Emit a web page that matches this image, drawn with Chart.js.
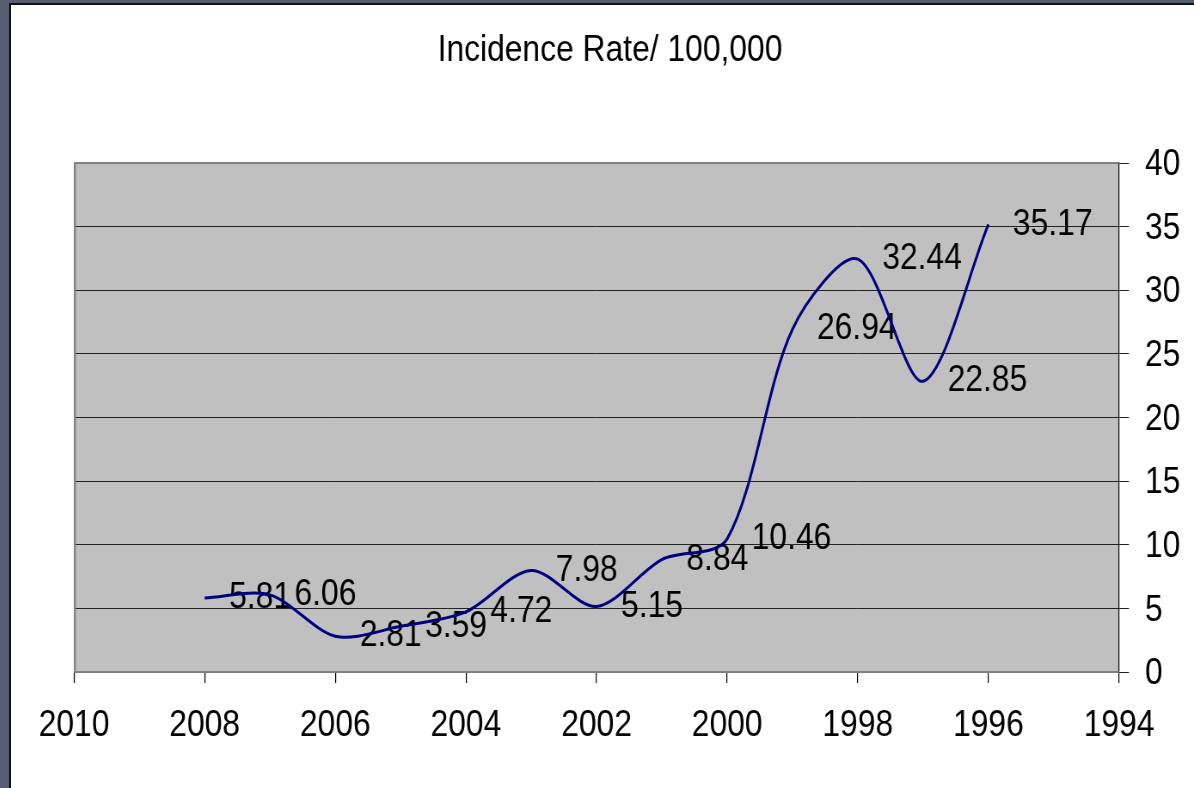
<!DOCTYPE html>
<html>
<head>
<meta charset="utf-8">
<script src="https://cdn.jsdelivr.net/npm/chart.js@4/dist/chart.umd.min.js"></script>
<style>
  html, body { margin: 0; padding: 0; width: 1194px; height: 788px; overflow: hidden; background: #585c70; }
  #frame { position: absolute; left: 9px; top: 3px; width: 1185px; height: 785px; border-left: 2px solid #111; border-top: 2px solid #111; background: #fff; }
</style>
</head>
<body>
<div id="frame">
  <!-- drawn wide, shown narrower: the text in this chart is tall and narrow -->
  <canvas id="chart" width="1376" height="783" style="width:1183px;height:783px"></canvas>
</div>
<script>
var years = [2008, 2007, 2006, 2005, 2004, 2003, 2002, 2001, 2000, 1999, 1998, 1997, 1996];
var rates = [5.81, 6.06, 2.81, 3.59, 4.72, 7.98, 5.15, 8.84, 10.46, 26.94, 32.44, 22.85, 35.17];
var yearTicks = [2010, 2008, 2006, 2004, 2002, 2000, 1998, 1996, 1994];
var rateTicks = [0, 5, 10, 15, 20, 25, 30, 35, 40];
var title = 'Incidence Rate/ 100,000';

var FONT = '"Liberation Sans", Arial, sans-serif';

var points = years.map(function (y, i) { return { x: y, y: rates[i] }; });

var chartDecor = {
  id: 'chartDecor',
  beforeDraw: function (chart) {
    var a = chart.chartArea, c = chart.ctx;
    c.save();
    c.fillStyle = '#c0c0c0';
    c.fillRect(a.left, a.top, a.right - a.left, a.bottom - a.top);
    c.restore();
  },
  // value labels go under the line
  beforeDatasetsDraw: function (chart) {
    var c = chart.ctx, meta = chart.getDatasetMeta(0);
    c.save();
    c.font = '37px ' + FONT;
    c.fillStyle = '#000';
    c.textAlign = 'left';
    c.textBaseline = 'middle';
    meta.data.forEach(function (pt, i) {
      c.fillText(rates[i].toFixed(2), pt.x + 28.5, pt.y);
    });
    c.restore();
  },
  afterDraw: function (chart) {
    var a = chart.chartArea, c = chart.ctx;
    c.save();
    // grey frame on top, left and bottom of the plot
    c.strokeStyle = '#808080';
    c.lineWidth = 2;
    c.beginPath();
    c.moveTo(a.right, a.top); c.lineTo(a.left, a.top);
    c.moveTo(a.right, a.bottom); c.lineTo(a.left, a.bottom);
    c.stroke();
    c.lineWidth = 2.3;
    c.beginPath();
    c.moveTo(a.left + 1, a.top); c.lineTo(a.left + 1, a.bottom);
    c.stroke();
    // title
    c.font = '37px ' + FONT;
    c.fillStyle = '#000';
    c.textAlign = 'center';
    c.textBaseline = 'middle';
    c.fillText(title, 696.7, 45.5);
    c.restore();
  }
};

var ctx = document.getElementById('chart').getContext('2d');
var chart = new Chart(ctx, {
  type: 'line',
  data: {
    datasets: [{
      label: title,
      data: points,
      borderColor: '#000080',
      borderWidth: 3,
      pointRadius: 0,
      tension: 0.3,
      fill: false
    }]
  },
  options: {
    responsive: false,
    animation: false,
    layout: { padding: { left: 73.3, top: 158, right: 0, bottom: 0 } },
    plugins: {
      legend: { display: false },
      title: { display: false },
      tooltip: { enabled: false }
    },
    scales: {
      x: {
        type: 'linear',
        reverse: true,
        min: yearTicks[yearTicks.length - 1],
        max: yearTicks[0],
        afterBuildTicks: function (scale) {
          scale.ticks = yearTicks.map(function (v) { return { value: v }; });
        },
        afterFit: function (scale) { scale.height = 116; },
        border: { display: false },
        grid: { drawOnChartArea: false, drawTicks: true, tickLength: 11, color: '#000', lineWidth: 1.2 },
        ticks: {
          color: '#000',
          font: { family: FONT, size: 37 },
          padding: 21,
          maxRotation: 0,
          autoSkip: false,
          callback: function (v) { return String(v); }
        }
      },
      y: {
        position: 'right',
        min: rateTicks[0],
        max: rateTicks[rateTicks.length - 1],
        afterBuildTicks: function (scale) {
          scale.ticks = rateTicks.map(function (v) { return { value: v }; });
        },
        afterFit: function (scale) { scale.width = 87.2; },
        border: { display: true, color: '#000', width: 1.2 },
        grid: { color: '#222', lineWidth: 1, tickLength: 11.6 },
        ticks: {
          color: '#000',
          font: { family: FONT, size: 37 },
          padding: 18.6,
          labelOffset: 2,
          autoSkip: false,
          callback: function (v) { return String(v); }
        }
      }
    }
  },
  plugins: [chartDecor]
});
</script>
</body>
</html>
